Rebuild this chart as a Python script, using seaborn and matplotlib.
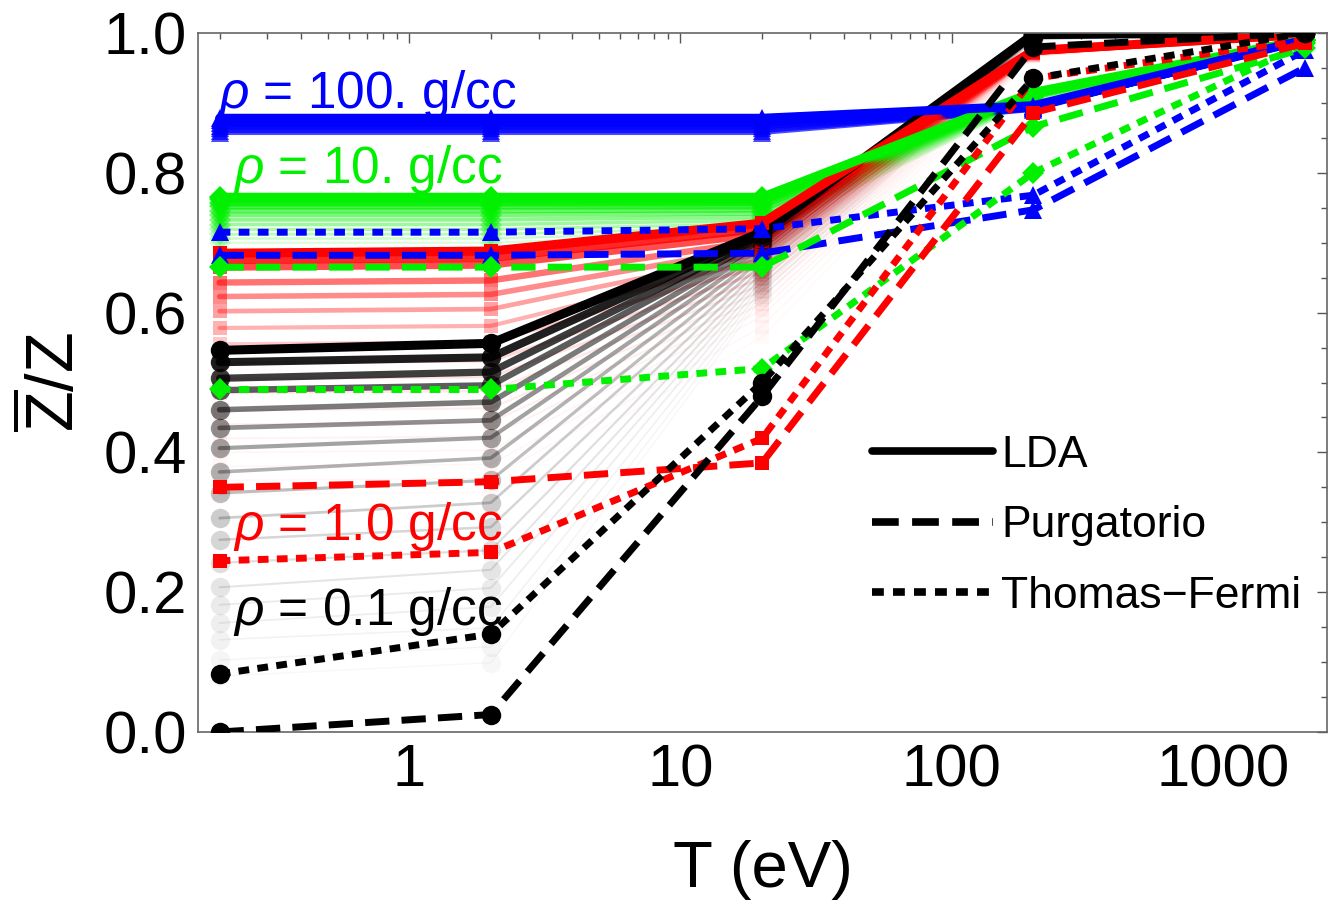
import numpy as np
import matplotlib
matplotlib.use("Agg")
import matplotlib.pyplot as plt
from matplotlib.lines import Line2D
from matplotlib.ticker import FixedLocator, NullFormatter, FixedFormatter
import seaborn as sns

# Temperatures (eV)
T = [0.2, 2, 20, 200, 2000]

# LDA ensembles: one row per member, top (most converged) first
lda_01 = [
    [0.546, 0.556, 0.715, 0.998, 1.0],
    [0.529, 0.536, 0.712, 0.998, 1.0],
    [0.506, 0.515, 0.708, 0.997, 1.0],
    [0.489, 0.496, 0.704, 0.997, 1.0],
    [0.461, 0.472, 0.699, 0.996, 1.0],
    [0.435, 0.446, 0.694, 0.996, 1.0],
    [0.406, 0.421, 0.688, 0.995, 1.0],
    [0.372, 0.392, 0.682, 0.995, 1.0],
    [0.342, 0.360, 0.676, 0.994, 1.0],
    [0.306, 0.328, 0.670, 0.994, 1.0],
    [0.275, 0.293, 0.664, 0.993, 1.0],
    [0.242, 0.260, 0.658, 0.993, 1.0],
    [0.207, 0.232, 0.652, 0.992, 1.0],
    [0.182, 0.206, 0.646, 0.992, 1.0],
    [0.156, 0.179, 0.640, 0.991, 1.0],
    [0.132, 0.149, 0.634, 0.991, 1.0],
    [0.103, 0.122, 0.628, 0.990, 1.0],
    [0.080, 0.099, 0.622, 0.990, 1.0],
]
lda_1 = [
    [0.685, 0.688, 0.728, 0.975, 0.998],
    [0.675, 0.678, 0.720, 0.974, 0.998],
    [0.665, 0.668, 0.712, 0.974, 0.998],
    [0.643, 0.646, 0.703, 0.973, 0.998],
    [0.623, 0.626, 0.694, 0.973, 0.998],
    [0.602, 0.605, 0.685, 0.972, 0.998],
    [0.578, 0.581, 0.676, 0.972, 0.998],
    [0.555, 0.558, 0.667, 0.971, 0.998],
    [0.528, 0.531, 0.658, 0.971, 0.998],
    [0.505, 0.508, 0.649, 0.970, 0.998],
    [0.485, 0.488, 0.640, 0.970, 0.998],
    [0.460, 0.463, 0.631, 0.969, 0.998],
    [0.440, 0.443, 0.622, 0.969, 0.998],
    [0.420, 0.423, 0.613, 0.968, 0.998],
    [0.400, 0.403, 0.604, 0.968, 0.998],
    [0.380, 0.383, 0.595, 0.967, 0.998],
    [0.360, 0.363, 0.580, 0.967, 0.998],
    [0.340, 0.343, 0.565, 0.966, 0.998],
]
lda_10 = [
    [0.765, 0.765, 0.765, 0.915, 0.990],
    [0.762, 0.762, 0.761, 0.914, 0.990],
    [0.757, 0.757, 0.757, 0.913, 0.990],
    [0.752, 0.752, 0.752, 0.912, 0.990],
    [0.746, 0.746, 0.747, 0.911, 0.990],
    [0.740, 0.740, 0.742, 0.910, 0.990],
    [0.733, 0.733, 0.737, 0.909, 0.990],
    [0.726, 0.726, 0.732, 0.908, 0.990],
    [0.719, 0.719, 0.727, 0.907, 0.990],
    [0.712, 0.712, 0.722, 0.906, 0.990],
    [0.706, 0.706, 0.717, 0.905, 0.990],
    [0.700, 0.700, 0.712, 0.904, 0.990],
]
lda_100 = [
    [0.878, 0.878, 0.878, 0.896, 0.990],
    [0.875, 0.875, 0.875, 0.895, 0.990],
    [0.871, 0.871, 0.871, 0.894, 0.990],
    [0.867, 0.867, 0.867, 0.893, 0.990],
    [0.864, 0.864, 0.864, 0.892, 0.990],
    [0.860, 0.860, 0.860, 0.891, 0.990],
    [0.857, 0.857, 0.857, 0.890, 0.990],
]

# Purgatorio (average atom) and Thomas-Fermi results
purg_01 = [0.0, 0.025, 0.48, 0.98, 1.0]
tf_01 = [0.083, 0.14, 0.50, 0.935, 1.0]
purg_1 = [0.35, 0.358, 0.385, 0.886, 0.985]
tf_1 = [0.245, 0.257, 0.42, 0.935, 0.99]
purg_10 = [0.665, 0.665, 0.665, 0.866, 0.978]
tf_10 = [0.49, 0.49, 0.52, 0.80, 0.985]
purg_100 = [0.682, 0.682, 0.685, 0.747, 0.95]
tf_100 = [0.715, 0.715, 0.72, 0.768, 0.975]

densities = ["0.1", "1.0", "10.", "100."]
labels = [r"$\mathit{\rho}$ = 100. g/cc", r"$\mathit{\rho}$ = 10. g/cc",
          r"$\mathit{\rho}$ = 1.0 g/cc", r"$\mathit{\rho}$ = 0.1 g/cc"]
label_pos = [(0.197, 0.893), (0.224, 0.785), (0.224, 0.275), (0.224, 0.153)]
methods = ["LDA", "Purgatorio", "Thomas\u2212Fermi"]

colors = {"0.1": "#000000", "1.0": "#ff0000", "10.": "#00f000", "100.": "#0000ff"}
markers = {"0.1": ("o", 14), "1.0": ("s", 10.5), "10.": ("D", 11), "100.": ("^", 13)}
label_colors = ["#0000ff", "#00f000", "#ff0000", "#000000"]
# stacking of the model curves: low density on top
curve_z = {"0.1": 13, "1.0": 12, "10.": 11, "100.": 10}

# fading of the LDA ensemble members (converged member first)
fade_alpha = {
    "0.1": [1, 0.88, 0.76, 0.64, 0.52, 0.43, 0.36, 0.3, 0.25, 0.2, 0.16, 0.13, 0.1,
            0.08, 0.065, 0.05, 0.04, 0.03],
    "1.0": [1, 0.85, 0.7, 0.55, 0.45, 0.37, 0.3, 0.22, 0.16, 0.12, 0.09, 0.07, 0.06,
            0.05, 0.04, 0.035, 0.03, 0.025],
    "10.": [1, 0.9, 0.8, 0.7, 0.6, 0.52, 0.45, 0.38, 0.32, 0.26, 0.2, 0.15],
    "100.": [1, 0.95, 0.9, 0.85, 0.8, 0.75, 0.7],
}
fade_width = [6.5, 5.8, 5.2, 4.6, 4.0, 3.4, 3.0, 2.6, 2.3, 2.0, 1.8, 1.6, 1.5, 1.4,
              1.3, 1.2, 1.1, 1.0]

DASHED = (0, (3.5, 1.75))
DOTTED = (0, (1.55, 1.2))

sns.set_theme(style="white")
plt.rcParams["font.family"] = ["Liberation Sans", "DejaVu Sans"]
plt.rcParams["mathtext.fontset"] = "custom"
plt.rcParams["mathtext.rm"] = "Liberation Sans"
plt.rcParams["mathtext.it"] = "Liberation Sans:italic"
plt.rcParams["text.color"] = "black"
plt.rcParams["axes.labelcolor"] = "black"

fig = plt.figure(figsize=(13.34, 9.07), dpi=100)
ax = fig.add_axes([198 / 1334, (907 - 732) / 907, (1327 - 198) / 1334, (732 - 33) / 907])


def draw(vals, key, lw, ls, alpha, z):
    mk, ms = markers[key]
    sns.lineplot(x=T, y=vals, ax=ax, color=colors[key], lw=lw, linestyle=ls,
                 marker=mk, markersize=ms, markeredgewidth=0, alpha=alpha,
                 zorder=z, sort=False, errorbar=None, legend=False)


# LDA ensembles: members drawn from most faded to converged, densities interleaved
ensembles = dict(zip(densities, [lda_01, lda_1, lda_10, lda_100]))
depth = max(len(e) for e in ensembles.values())
for i in range(depth - 1, -1, -1):
    for key in densities:
        ens = ensembles[key]
        if i < len(ens):
            draw(ens[i], key, fade_width[i], "-", fade_alpha[key][i], 2)

# Purgatorio (dashed) and Thomas-Fermi (dotted)
for key, pv, tv in zip(densities, [purg_01, purg_1, purg_10, purg_100],
                       [tf_01, tf_1, tf_10, tf_100]):
    draw(pv, key, 5.0, DASHED, 1.0, curve_z[key])
    draw(tv, key, 5.0, DOTTED, 1.0, curve_z[key])

# density annotations
for txt, (x, y), c in zip(labels, label_pos, label_colors):
    ax.text(x, y, txt, color=c, fontsize=37, ha="left", va="baseline", zorder=30)

ax.set_xscale("log")
ax.set_xlim(0.1665, 2420)
ax.set_ylim(0, 1)

major_x = [1, 10, 100, 1000]
minor_x = [m * 10.0 ** e for e in range(-1, 4) for m in range(2, 10)]
ax.xaxis.set_major_locator(FixedLocator(major_x))
ax.xaxis.set_major_formatter(FixedFormatter([str(v) for v in major_x]))
ax.xaxis.set_minor_locator(FixedLocator(minor_x))
ax.xaxis.set_minor_formatter(NullFormatter())
major_y = [0.0, 0.2, 0.4, 0.6, 0.8, 1.0]
ax.yaxis.set_major_locator(FixedLocator(major_y))
ax.yaxis.set_major_formatter(FixedFormatter([f"{v:.1f}" for v in major_y]))
ax.yaxis.set_minor_locator(FixedLocator([0.05 * k for k in range(21)]))

ax.tick_params(which="both", direction="in", top=True, right=True, colors="#555555",
               labelcolor="black", width=1.0)
ax.tick_params(which="major", length=7, labelsize=43, pad=8)
ax.tick_params(which="minor", length=4)
for s in ax.spines.values():
    s.set_color("#666666")
    s.set_linewidth(1.2)

ax.set_xlabel("T (eV)", fontsize=47, labelpad=30)
ax.set_ylabel(r"$\overline{\mathrm{Z}}/\mathrm{Z}$", fontsize=48, labelpad=11)

handles = [Line2D([], [], color="black", lw=5.5, ls="-"),
           Line2D([], [], color="black", lw=5.5, ls=DASHED),
           Line2D([], [], color="black", lw=5.5, ls=DOTTED)]
ax.legend(handles, methods, loc="center left", bbox_to_anchor=(0.597, 0.295),
          frameon=False, fontsize=32, handlelength=2.72, handletextpad=0.18,
          labelspacing=0.66, borderpad=0, borderaxespad=0)

fig.savefig("out.png", dpi=100)
